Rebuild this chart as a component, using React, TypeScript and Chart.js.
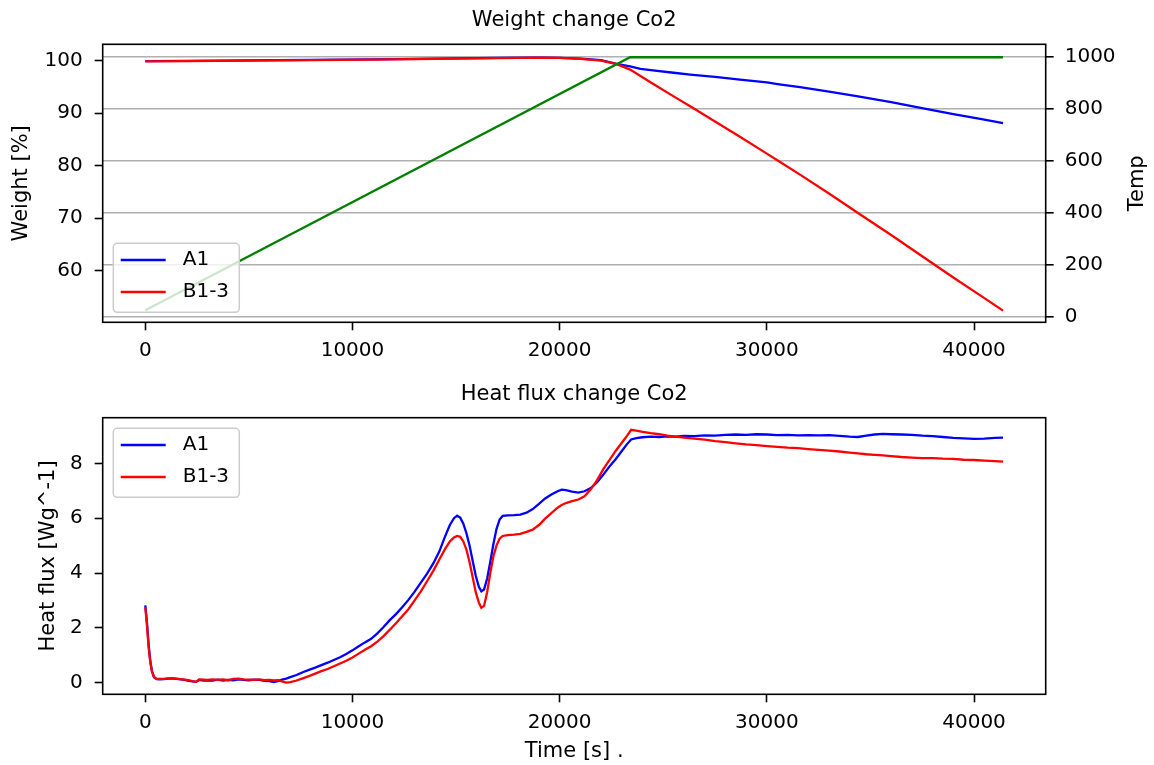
import React, { useEffect, useRef } from 'react';
import { Chart, registerables } from 'chart.js';

Chart.register(...registerables);

const FONT = "'DejaVu Sans', 'Liberation Sans', sans-serif";

// ---------- Data ----------
const TIME_TICKS = [0, 10000, 20000, 30000, 40000];
const WEIGHT_TICKS = [60, 70, 80, 90, 100];
const TEMP_TICKS = [0, 200, 400, 600, 800, 1000];
const HF_TICKS = [0, 2, 4, 6, 8];

const W_TIME = [0, 2000, 5000, 8000, 11000, 14000, 17000, 19000, 20000, 21000, 22000, 22750, 23400, 23900, 24500, 25500, 26300, 27500, 28700, 30000, 30600, 31600, 33000, 34400, 36000, 37550, 39000, 40300, 41400];
const A1_WEIGHT = [99.9, 99.95, 100.05, 100.15, 100.25, 100.4, 100.55, 100.6, 100.55, 100.4, 100.1, 99.4, 98.9, 98.45, 98.15, 97.7, 97.35, 96.9, 96.4, 95.85, 95.5, 94.95, 94.1, 93.2, 92.1, 90.9, 89.8, 88.9, 88.1];
const B13_WEIGHT = [99.85, 99.9, 100.0, 100.1, 100.2, 100.35, 100.5, 100.6, 100.55, 100.35, 100.0, 99.35, 98.3, 97.1, 95.6, 93.2, 91.3, 88.4, 85.5, 82.3, 80.8, 78.3, 74.7, 71.0, 66.8, 62.6, 58.7, 55.3, 52.4];

const T_TIME = [0, 23400, 41400];
const TEMP = [25, 1000, 1000];

const HF_TIME = [0, 80, 160, 240, 320, 420, 550, 700, 900, 1100, 1300, 1500, 1700, 1900, 2100, 2300, 2450, 2600, 2800, 3000, 3250, 3500, 3750, 4000, 4250, 4500, 4750, 5000, 5250, 5500, 5750, 6000, 6200, 6400, 6600, 6800, 7000, 7300, 7600, 7900, 8200, 8500, 8800, 9100, 9400, 9700, 10000, 10300, 10600, 10900, 11200, 11500, 11800, 12100, 12400, 12700, 13000, 13300, 13600, 13900, 14200, 14450, 14700, 14900, 15050, 15200, 15350, 15500, 15650, 15800, 15950, 16100, 16220, 16350, 16500, 16650, 16800, 16950, 17100, 17250, 17500, 17800, 18100, 18400, 18700, 19000, 19300, 19600, 19900, 20100, 20300, 20600, 20900, 21200, 21500, 21800, 22100, 22400, 22700, 23000, 23250, 23450, 23700, 24000, 24400, 24800, 25200, 25600, 26000, 26500, 27000, 27500, 28000, 28500, 29000, 29500, 30000, 30500, 31000, 31500, 32000, 32500, 33000, 33500, 34000, 34400, 34800, 35200, 35600, 36000, 36500, 37000, 37500, 38000, 38500, 39000, 39500, 40000, 40500, 41000, 41400];
const A1_HF = [2.82, 2.2, 1.4, 0.8, 0.42, 0.2, 0.13, 0.12, 0.13, 0.15, 0.16, 0.14, 0.12, 0.1, 0.07, 0.05, 0.03, 0.1, 0.08, 0.09, 0.08, 0.11, 0.08, 0.1, 0.09, 0.12, 0.1, 0.09, 0.11, 0.1, 0.07, 0.06, 0.02, 0.06, 0.11, 0.15, 0.2, 0.28, 0.38, 0.47, 0.55, 0.64, 0.73, 0.83, 0.93, 1.05, 1.18, 1.33, 1.47, 1.6, 1.8, 2.03, 2.28, 2.5, 2.75, 3.02, 3.32, 3.65, 3.98, 4.35, 4.8, 5.3, 5.75, 6.0, 6.09, 6.02, 5.8, 5.45, 5.0, 4.45, 3.9, 3.5, 3.33, 3.4, 3.8, 4.4, 5.05, 5.6, 5.95, 6.08, 6.1, 6.11, 6.13, 6.2, 6.33, 6.52, 6.72, 6.86, 6.98, 7.04, 7.02, 6.97, 6.93, 6.98, 7.1, 7.3, 7.58, 7.88, 8.15, 8.45, 8.7, 8.87, 8.92, 8.95, 8.97, 8.96, 8.98, 8.97, 9.0, 8.99, 9.02, 9.01, 9.04, 9.05, 9.04, 9.06, 9.05, 9.03, 9.04, 9.02, 9.03, 9.02, 9.03, 9.0, 8.97, 8.96, 9.01, 9.05, 9.07, 9.06, 9.05, 9.04, 9.01, 8.99, 8.96, 8.93, 8.91, 8.89, 8.9, 8.93, 8.94];
const B13_HF = [2.76, 2.1, 1.3, 0.75, 0.42, 0.21, 0.14, 0.14, 0.14, 0.16, 0.17, 0.15, 0.13, 0.11, 0.09, 0.05, 0.03, 0.12, 0.11, 0.1, 0.12, 0.1, 0.12, 0.09, 0.14, 0.15, 0.12, 0.11, 0.1, 0.12, 0.09, 0.1, 0.08, 0.09, 0.05, 0.0, 0.02, 0.08, 0.16, 0.24, 0.33, 0.42, 0.5, 0.6, 0.7, 0.8, 0.92, 1.06, 1.2, 1.33, 1.5, 1.7, 1.93, 2.17, 2.42, 2.68, 3.0, 3.33, 3.7, 4.08, 4.5, 4.85, 5.15, 5.3, 5.35, 5.32, 5.15, 4.85, 4.4, 3.85, 3.3, 2.92, 2.73, 2.8, 3.3, 4.0, 4.6, 5.0, 5.25, 5.35, 5.38, 5.4, 5.43, 5.5, 5.58, 5.75, 5.98, 6.18, 6.38, 6.48, 6.55, 6.62, 6.68, 6.8, 7.05, 7.38, 7.78, 8.12, 8.45, 8.75, 9.0, 9.22, 9.19, 9.15, 9.1, 9.06, 9.01, 8.97, 8.94, 8.9, 8.86, 8.81, 8.77, 8.73, 8.69, 8.66, 8.63, 8.6, 8.57, 8.55, 8.52, 8.49, 8.46, 8.43, 8.39, 8.36, 8.33, 8.31, 8.29, 8.26, 8.23, 8.21, 8.19, 8.19, 8.17, 8.16, 8.13, 8.12, 8.1, 8.08, 8.06];

// ---------- Helpers ----------
const pts = (xs: number[], ys: number[]) => ys.map((y, i) => ({ x: xs[i], y }));

const X_MIN = -2056;
const X_MAX = 43459;
const LINE_W = 2.3;

const decorPlugin = {
  id: 'mplDecor',
  afterDraw(chart: any, _args: any, opts: any) {
    const { ctx, chartArea: a } = chart;
    ctx.save();
    const L = opts.legend;
    if (L) {
      const left = a.left + L.dx;
      const top = L.corner === 'lower' ? a.bottom - L.dy - L.h : a.top + L.dy;
      const r = 4;
      ctx.beginPath();
      ctx.moveTo(left + r, top);
      ctx.lineTo(left + L.w - r, top);
      ctx.arcTo(left + L.w, top, left + L.w, top + r, r);
      ctx.lineTo(left + L.w, top + L.h - r);
      ctx.arcTo(left + L.w, top + L.h, left + L.w - r, top + L.h, r);
      ctx.lineTo(left + r, top + L.h);
      ctx.arcTo(left, top + L.h, left, top + L.h - r, r);
      ctx.lineTo(left, top + r);
      ctx.arcTo(left, top, left + r, top, r);
      ctx.closePath();
      ctx.fillStyle = 'rgba(255,255,255,0.8)';
      ctx.fill();
      ctx.strokeStyle = '#cccccc';
      ctx.lineWidth = 1.5;
      ctx.stroke();
      const items = chart.data.datasets.filter((d: any) => d.inLegend !== false);
      items.forEach((d: any, i: number) => {
        const y = top + 16.7 + i * 32;
        ctx.strokeStyle = d.borderColor;
        ctx.lineWidth = LINE_W;
        ctx.beginPath();
        ctx.moveTo(left + 7.4, y);
        ctx.lineTo(left + 52.4, y);
        ctx.stroke();
        ctx.fillStyle = '#000';
        ctx.font = `20px ${FONT}`;
        ctx.textAlign = 'left';
        ctx.textBaseline = 'middle';
        ctx.fillText(d.label, left + 69.4, y);
      });
    }
    ctx.strokeStyle = '#000';
    ctx.lineWidth = 1.6;
    ctx.strokeRect(a.left, a.top, a.right - a.left, a.bottom - a.top);
    if (opts.rightLabel) {
      ctx.translate(opts.rightLabel.x, (a.top + a.bottom) / 2);
      ctx.rotate(-Math.PI / 2);
      ctx.font = `21px ${FONT}`;
      ctx.textAlign = 'center';
      ctx.textBaseline = 'middle';
      ctx.fillStyle = '#000';
      ctx.fillText(opts.rightLabel.text, 0, 0);
    }
    ctx.restore();
  },
};

const tickGrid = {
  drawOnChartArea: false,
  drawTicks: true,
  tickLength: 8,
  tickWidth: 1.6,
  tickColor: '#000',
  color: '#000',
};

const tickFont = { size: 20, family: FONT, weight: 'normal' };
const titleFont = { size: 21, family: FONT, weight: 'normal' };

const setTicks = (vals: number[]) => (s: any) => {
  s.ticks = vals.map((v) => ({ value: v }));
};

const plain = (v: any) => String(v);

function xScale(height: number, title?: string) {
  return {
    type: 'linear',
    position: 'bottom',
    min: X_MIN,
    max: X_MAX,
    afterBuildTicks: setTicks(TIME_TICKS),
    afterFit: (s: any) => {
      s.height = height;
    },
    grid: tickGrid,
    border: { display: false },
    ticks: {
      padding: 8,
      color: '#000',
      font: tickFont,
      maxRotation: 0,
      autoSkip: false,
      callback: plain,
    },
    title: title
      ? { display: true, text: title, color: '#000', font: titleFont, padding: { top: 0, bottom: 1 } }
      : { display: false },
  };
}

function weightConfig(): any {
  return {
    type: 'line',
    data: {
      datasets: [
        { label: 'A1', data: pts(W_TIME, A1_WEIGHT), borderColor: '#0000ff', borderWidth: LINE_W, pointRadius: 0, yAxisID: 'y', order: 2 },
        { label: 'B1-3', data: pts(W_TIME, B13_WEIGHT), borderColor: '#ff0000', borderWidth: LINE_W, pointRadius: 0, yAxisID: 'y', order: 1 },
        { label: 'Temp', data: pts(T_TIME, TEMP), borderColor: '#008000', borderWidth: LINE_W, pointRadius: 0, yAxisID: 'y1', order: 0, inLegend: false },
      ],
    },
    options: {
      responsive: false,
      animation: false,
      devicePixelRatio: 1,
      layout: { padding: 0 },
      plugins: {
        legend: { display: false },
        tooltip: { enabled: false },
        title: {
          display: true,
          text: 'Weight change Co2',
          color: '#000',
          font: titleFont,
          padding: { top: 8.4, bottom: 10.7 },
          fullSize: false,
        },
        mplDecor: {
          legend: { corner: 'lower', dx: 10.6, dy: 10, w: 126, h: 69 },
          rightLabel: { text: 'Temp', x: 1138 },
        },
      },
      scales: {
        x: xScale(52.7),
        y: {
          position: 'left',
          min: 50.17,
          max: 103.12,
          afterBuildTicks: setTicks(WEIGHT_TICKS),
          afterFit: (s: any) => {
            s.width = 102.7;
          },
          grid: tickGrid,
          border: { display: false },
          ticks: { padding: 12, color: '#000', font: tickFont, callback: plain },
          title: { display: true, text: 'Weight [%]', color: '#000', font: titleFont, padding: { top: 9, bottom: 0 } },
        },
        y1: {
          position: 'right',
          min: -21.6,
          max: 1050,
          afterBuildTicks: setTicks(TEMP_TICKS),
          afterFit: (s: any) => {
            s.width = 108.3;
          },
          grid: {
            drawOnChartArea: true,
            drawTicks: true,
            color: '#b0b0b0',
            lineWidth: 1.6,
            tickLength: 8,
            tickWidth: 1.6,
            tickColor: '#000',
          },
          border: { display: false },
          ticks: { padding: 11, color: '#000', font: tickFont, callback: plain },
        },
      },
    },
    plugins: [decorPlugin],
  };
}

function heatConfig(): any {
  return {
    type: 'line',
    data: {
      datasets: [
        { label: 'A1', data: pts(HF_TIME, A1_HF), borderColor: '#0000ff', borderWidth: LINE_W, pointRadius: 0, order: 2 },
        { label: 'B1-3', data: pts(HF_TIME, B13_HF), borderColor: '#ff0000', borderWidth: LINE_W, pointRadius: 0, order: 1 },
      ],
    },
    options: {
      responsive: false,
      animation: false,
      devicePixelRatio: 1,
      layout: { padding: { left: 0, right: 108.3, top: 0, bottom: 0 } },
      plugins: {
        legend: { display: false },
        tooltip: { enabled: false },
        title: {
          display: true,
          text: 'Heat flux change Co2',
          color: '#000',
          font: titleFont,
          padding: { top: 6.8, bottom: 10.7 },
          fullSize: false,
        },
        mplDecor: {
          legend: { corner: 'upper', dx: 10.6, dy: 10.6, w: 126, h: 69 },
        },
      },
      scales: {
        x: xScale(70.7, 'Time [s] .'),
        y: {
          position: 'left',
          min: -0.423,
          max: 9.663,
          afterBuildTicks: setTicks(HF_TICKS),
          afterFit: (s: any) => {
            s.width = 102.7;
          },
          grid: tickGrid,
          border: { display: false },
          ticks: { padding: 12, color: '#000', font: tickFont, callback: plain },
          title: { display: true, text: 'Heat flux [Wg^-1]', color: '#000', font: titleFont, padding: { top: 35.5, bottom: 0 } },
        },
      },
    },
    plugins: [decorPlugin],
  };
}

function ChartCanvas({ makeConfig, top, height }: { makeConfig: () => any; top: number; height: number }) {
  const ref = useRef<HTMLCanvasElement | null>(null);
  useEffect(() => {
    if (!ref.current) return;
    const chart = new Chart(ref.current, makeConfig());
    return () => chart.destroy();
  }, []);
  return (
    <canvas
      ref={ref}
      width={1154}
      height={height}
      style={{ position: 'absolute', left: 0, top, width: 1154, height, display: 'block' }}
    />
  );
}

export default function App() {
  return (
    <div style={{ position: 'absolute', left: 0, top: 0, width: 1154, height: 765, background: '#fff', overflow: 'hidden' }}>
      <ChartCanvas makeConfig={weightConfig} top={0} height={375} />
      <ChartCanvas makeConfig={heatConfig} top={375} height={390} />
    </div>
  );
}
